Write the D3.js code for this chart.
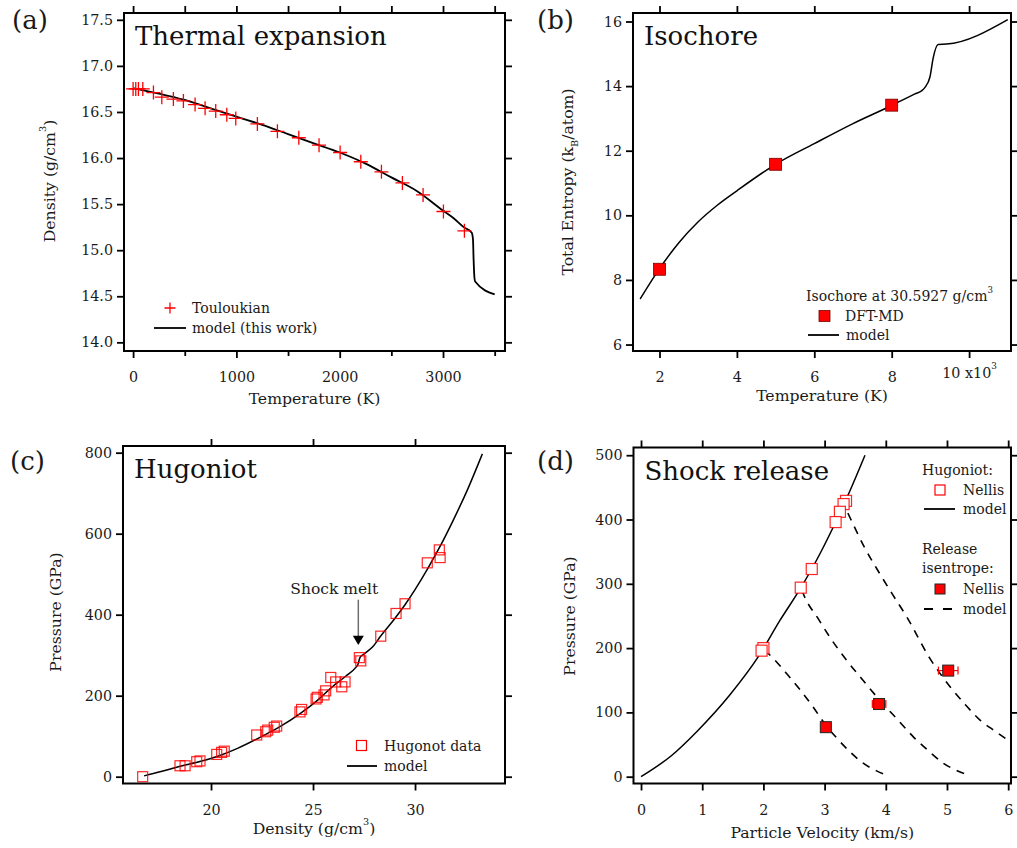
<!DOCTYPE html>
<html>
<head>
<meta charset="utf-8">
<script src="https://cdn.jsdelivr.net/npm/d3@7"></script>
<style>
  body { margin: 0; background: #fff; }
  svg { display: block; }
</style>
</head>
<body>
<script>
// ---- (a) thermal expansion: [T (K), density (g/cm3)]
const touloukian = [[0,16.75],[26,16.75],[52,16.75],[94,16.75],[197,16.71],[278,16.66],[390,16.64],
  [487,16.62],[600,16.58],[697,16.54],[800,16.51],[907,16.47],[994,16.43],[1203,16.37],[1397,16.29],
  [1604,16.22],[1800,16.14],[2004,16.06],[2204,15.96],[2404,15.85],[2607,15.73],[2807,15.60],
  [3004,15.42],[3207,15.21]];
const modelA = [[0,16.76],[250,16.70],[500,16.63],[750,16.54],[1000,16.45],[1250,16.36],[1500,16.26],
  [1750,16.16],[2000,16.06],[2250,15.94],[2500,15.79],[2750,15.64],[3000,15.43],[3100,15.35],
  [3200,15.25],[3278,15.19],[3290,15.12],[3296,14.90],[3303,14.72],[3311,14.66],[3500,14.52]];
const aXTicks = [0, 1000, 2000, 3000];
const aXMinor = [500, 1500, 2500, 3500];
const aYTicks = [14.0, 14.5, 15.0, 15.5, 16.0, 16.5, 17.0, 17.5];

// ---- (b) isochore: [T (10^3 K), entropy (kB/atom)]
const dftmd = [[2,8.33],[5,11.58],[8,13.41]];
const modelB = [[1.5,7.41],[2.0,8.35],[2.5,9.15],[3.0,9.80],[3.5,10.32],[4.0,10.76],[5.0,11.58],
  [6.0,12.22],[7.0,12.84],[8.0,13.40],[8.6,13.76],[8.78,13.86],[8.86,13.96],[8.99,14.29],
  [9.07,14.86],[9.2,15.29],[9.42,15.30],[11.0,16.06]];
const bXTicks = [2, 4, 6, 8, 10];
const bYTicks = [6, 8, 10, 12, 14, 16];

// ---- (c) Hugoniot: [density (g/cm3), pressure (GPa)]
const hugData = [[16.65,0],[18.48,27],[18.73,27],[19.30,37],[19.46,39],[20.28,55],[20.52,60],
  [20.65,63],[22.24,103],[22.68,111],[22.78,115],[23.10,122],[23.22,125],[24.36,160],[24.44,166],
  [25.15,192],[25.21,196],[25.54,202],[25.62,212],[25.87,245],[26.11,234],[26.41,222],[26.57,234],
  [27.27,294],[27.34,286],[28.32,347],[29.07,403],[29.51,427],[30.60,528],[31.19,560],[31.23,541]];
const modelC = [[16.72,2],[17.5,12],[18.5,26],[19.5,38],[20.3,50],[21.3,70],[22.4,97],[23.4,124],
  [24.4,157],[25.2,188],[25.9,220],[26.6,248],[27.1,270],[27.2,277],[27.3,294],[27.5,303],
  [27.95,322],[28.3,346],[29.0,390],[29.5,424],[30.0,462],[30.6,512],[31.2,566],[31.9,636],
  [32.6,712],[33.3,797]];
const meltRho = 27.22;
const cXTicks = [20, 25, 30];
const cYTicks = [0, 200, 400, 600, 800];

// ---- (d) shock release: [particle velocity (km/s), pressure (GPa)]
const nellisHug = [[3.35,429],[3.31,424],[3.25,412],[3.18,396],[2.79,323],[2.61,294],[2.00,200],[1.97,196]];
const nellisRel = [[3.02,77,0.05],[3.89,113,0.11],[5.02,165,0.16]]; // u, P, error in u
const modelD = [[0,0],[0.5,33],[0.91,70],[1.45,127],[1.92,187],[2.27,243],[2.6,292],[2.87,337],
  [3.14,388],[3.42,446],[3.66,500]];
const release1 = [[2.02,197],[2.16,184],[2.4,158],[2.6,135],[2.8,110],[3.02,80],[3.2,60],[3.4,40],
  [3.63,21],[3.85,9],[4.04,1.5]];
const release2 = [[2.63,290],[2.65,285],[2.9,245],[3.1,215],[3.36,181],[3.6,153],[3.9,119],[4.2,88],
  [4.45,62],[4.7,40],[4.94,21],[5.15,10],[5.35,2.5]];
const release3 = [[3.38,410],[3.42,402],[3.65,357],[3.9,316],[4.1,285],[4.34,249],[4.72,184],
  [5.05,140],[5.3,112],[5.54,88],[5.8,70],[6.05,53]];
const dXTicks = [0, 1, 2, 3, 4, 5, 6];
const dYTicks = [0, 100, 200, 300, 400, 500];

const FONT = 'DejaVu Serif';
const TITLE_SIZE = 15.7;
const svg = d3.select('body').append('svg')
  .attr('width', 1017).attr('height', 848)
  .attr('font-family', FONT);

// text made of plain / superscript / subscript parts
function rich(sel, parts, size) {
  let shift = 0;
  parts.forEach(([s, kind]) => {
    const want = kind === 'sup' ? -0.6 * size : kind === 'sub' ? 0.3 * size : 0;
    sel.append('tspan')
      .attr('dy', want - shift)
      .attr('font-size', kind ? size * 0.62 : size)
      .text(s);
    shift = want;
  });
  return sel;
}

function styleAxis(a) {
  a.attr('font-family', FONT).attr('font-size', 14.3);
  a.select('.domain').remove();
  a.selectAll('.tick line').attr('stroke', '#000').attr('stroke-width', 1.8);
  a.selectAll('.tick text').attr('fill', '#1a1a1a');
}

function makePanel(c) {
  const [l, r, t, b] = c.box;
  const x = d3.scaleLinear().domain(c.xDomain).range([l, r]);
  const y = d3.scaleLinear().domain(c.yDomain).range([b, t]);
  const g = svg.append('g');
  g.append('clipPath').attr('id', 'clip' + c.name)
    .append('rect').attr('x', l).attr('y', t).attr('width', r - l).attr('height', b - t);

  const none = () => '';
  const xAxis = g.append('g').attr('transform', `translate(0,${b})`)
    .call(d3.axisBottom(x).tickValues(c.xTicks).tickFormat(c.xFormat).tickSize(7).tickPadding(14).tickSizeOuter(0))
    .call(styleAxis);
  g.append('g').attr('transform', `translate(0,${t})`)
    .call(d3.axisTop(x).tickValues(c.xTicks).tickFormat(none).tickSize(7).tickSizeOuter(0))
    .call(styleAxis);
  if (c.xMinor) {
    g.append('g').attr('transform', `translate(0,${b})`)
      .call(d3.axisBottom(x).tickValues(c.xMinor).tickFormat(none).tickSize(5).tickSizeOuter(0))
      .call(styleAxis);
    g.append('g').attr('transform', `translate(0,${t})`)
      .call(d3.axisTop(x).tickValues(c.xMinor).tickFormat(none).tickSize(7).tickSizeOuter(0))
      .call(styleAxis);
  }
  g.append('g').attr('transform', `translate(${l},0)`)
    .call(d3.axisLeft(y).tickValues(c.yTicks).tickFormat(c.yFormat).tickSize(7).tickPadding(4).tickSizeOuter(0))
    .call(styleAxis);
  g.append('g').attr('transform', `translate(${r},0)`)
    .call(d3.axisRight(y).tickValues(c.yTicks).tickFormat(none).tickSize(7).tickSizeOuter(0))
    .call(styleAxis);

  const plot = g.append('g').attr('clip-path', `url(#clip${c.name})`);
  const over = g.append('g');
  g.append('rect').attr('x', l).attr('y', t).attr('width', r - l).attr('height', b - t)
    .attr('fill', 'none').attr('stroke', '#000').attr('stroke-width', 2);

  // panel letter and title
  g.append('text').attr('x', c.letter[0]).attr('y', c.letter[1])
    .attr('font-size', 26).attr('fill', '#1a1a1a').text(`(${c.name})`);
  g.append('text').attr('x', l + 11).attr('y', t + 32)
    .attr('font-size', 26).attr('fill', '#111').text(c.title);

  // axis titles
  rich(g.append('text').attr('x', (l + r) / 2).attr('y', c.xTitleY)
    .attr('text-anchor', 'middle').attr('fill', '#1a1a1a'), c.xTitle, TITLE_SIZE);
  rich(g.append('text').attr('transform', `translate(${c.yTitleX},${c.yTitleC}) rotate(-90)`)
    .attr('text-anchor', 'middle').attr('fill', '#1a1a1a'), c.yTitle, TITLE_SIZE);

  return { g, plot, over, x, y, xAxis };
}

const line = (x, y) => d3.line().x(d => x(d[0])).y(d => y(d[1])).curve(d3.curveMonotoneX);
const crossPath = s => `M${-s},0H${s}M0,${-s}V${s}`;

// ================= (a)
{
  const p = makePanel({
    name: 'a', box: [124, 505, 13, 351], xDomain: [-88, 3600], yDomain: [13.906, 17.574],
    xTicks: aXTicks, xMinor: aXMinor, yTicks: aYTicks, xFormat: d3.format('d'), yFormat: d3.format('.1f'),
    letter: [12, 29], title: 'Thermal expansion',
    xTitle: [['Temperature (K)']], xTitleY: 404,
    yTitle: [['Density (g/cm'], ['3', 'sup'], [')']], yTitleX: 55, yTitleC: 181
  });
  p.plot.append('path').datum(modelA).attr('d', line(p.x, p.y))
    .attr('fill', 'none').attr('stroke', '#000').attr('stroke-width', 1.8);
  p.plot.selectAll('.cross').data(touloukian).join('path')
    .attr('transform', d => `translate(${p.x(d[0])},${p.y(d[1])})`)
    .attr('d', crossPath(7)).attr('stroke', '#f00').attr('stroke-width', 1.3).attr('fill', 'none');
  // legend
  const lg = p.g.append('g').attr('font-size', 14).attr('fill', '#1a1a1a');
  lg.append('path').attr('transform', 'translate(170,308)').attr('d', crossPath(5.5))
    .attr('stroke', '#f00').attr('stroke-width', 1.3);
  lg.append('text').attr('x', 192).attr('y', 313).text('Touloukian');
  lg.append('line').attr('x1', 154).attr('x2', 186).attr('y1', 328).attr('y2', 328)
    .attr('stroke', '#000').attr('stroke-width', 1.8);
  lg.append('text').attr('x', 192).attr('y', 333).text('model (this work)');
}

// ================= (b)
{
  const p = makePanel({
    name: 'b', box: [633, 1011, 13, 351], xDomain: [1.315, 11.083], yDomain: [5.8, 16.263],
    xTicks: bXTicks, yTicks: bYTicks, xFormat: d3.format('d'), yFormat: d3.format('d'),
    letter: [537, 29], title: 'Isochore',
    xTitle: [['Temperature (K)']], xTitleY: 401,
    yTitle: [['Total Entropy (k'], ['B', 'sub'], ['/atom)']], yTitleX: 573, yTitleC: 182
  });
  // "10 x10^3" label in place of 10 on the bottom axis only
  p.xAxis.selectAll('.tick text').filter(d => d === 10)
    .text(null).attr('y', 27)
    .call(t => rich(t, [['10 x10'], ['3', 'sup']], 14.3));
  p.plot.append('path').datum(modelB).attr('d', line(p.x, p.y))
    .attr('fill', 'none').attr('stroke', '#000').attr('stroke-width', 1.5);
  p.plot.selectAll('.sq').data(dftmd).join('rect')
    .attr('x', d => p.x(d[0]) - 6).attr('y', d => p.y(d[1]) - 6).attr('width', 12).attr('height', 12)
    .attr('fill', '#f00').attr('stroke', '#7a0000').attr('stroke-width', 0.8);
  const lg = p.g.append('g').attr('font-size', 14).attr('fill', '#1a1a1a');
  rich(lg.append('text').attr('x', 806).attr('y', 301), [['Isochore at 30.5927 g/cm'], ['3', 'sup']], 14);
  lg.append('rect').attr('x', 819).attr('y', 310.5).attr('width', 11).attr('height', 11)
    .attr('fill', '#f00').attr('stroke', '#7a0000').attr('stroke-width', 0.8);
  lg.append('text').attr('x', 845).attr('y', 321).text('DFT-MD');
  lg.append('line').attr('x1', 808).attr('x2', 839).attr('y1', 335).attr('y2', 335)
    .attr('stroke', '#000').attr('stroke-width', 1.8);
  lg.append('text').attr('x', 846).attr('y', 340).text('model');
}

// ================= (c)
{
  const p = makePanel({
    name: 'c', box: [123, 505, 446, 783.5], xDomain: [15.686, 34.41], yDomain: [-16.8, 816.5],
    xTicks: cXTicks, yTicks: cYTicks, xFormat: d3.format('d'), yFormat: d3.format('d'),
    letter: [10, 470], title: 'Hugoniot',
    xTitle: [['Density (g/cm'], ['3', 'sup'], [')']], xTitleY: 834,
    yTitle: [['Pressure (GPa)']], yTitleX: 61, yTitleC: 612
  });
  p.plot.append('path').datum(modelC).attr('d', line(p.x, p.y))
    .attr('fill', 'none').attr('stroke', '#000').attr('stroke-width', 1.5);
  p.plot.selectAll('.sq').data(hugData).join('rect')
    .attr('x', d => p.x(d[0]) - 5).attr('y', d => p.y(d[1]) - 5).attr('width', 10).attr('height', 10)
    .attr('fill', 'none').attr('stroke', '#f00').attr('stroke-opacity', 0.85).attr('stroke-width', 1.2);
  // shock melt annotation
  const ax = p.x(meltRho);
  p.over.append('text').attr('x', ax - 68).attr('y', p.y(452)).attr('font-size', 15.5)
    .attr('fill', '#1a1a1a').text('Shock melt');
  p.over.append('line').attr('x1', ax).attr('x2', ax).attr('y1', p.y(437)).attr('y2', p.y(346))
    .attr('stroke', '#6e6e6e').attr('stroke-width', 1.5);
  p.over.append('path').attr('d', `M${ax - 5.5},${p.y(348)}L${ax + 5.5},${p.y(348)}L${ax},${p.y(325)}Z`)
    .attr('fill', '#000');
  const lg = p.g.append('g').attr('font-size', 14).attr('fill', '#1a1a1a');
  lg.append('rect').attr('x', 356.5).attr('y', 740.5).attr('width', 10).attr('height', 10)
    .attr('fill', 'none').attr('stroke', '#f00').attr('stroke-width', 1.2);
  lg.append('text').attr('x', 384).attr('y', 751).text('Hugonot data');
  lg.append('line').attr('x1', 347).attr('x2', 377).attr('y1', 766).attr('y2', 766)
    .attr('stroke', '#000').attr('stroke-width', 1.8);
  lg.append('text').attr('x', 384).attr('y', 771).text('model');
}

// ================= (d)
{
  const p = makePanel({
    name: 'd', box: [633.5, 1011, 447.5, 783.5], xDomain: [-0.123, 6.046], yDomain: [-10.6, 512],
    xTicks: dXTicks, yTicks: dYTicks, xFormat: d3.format('d'), yFormat: d3.format('d'),
    letter: [537, 470], title: 'Shock release',
    xTitle: [['Particle Velocity (km/s)']], xTitleY: 838,
    yTitle: [['Pressure (GPa)']], yTitleX: 575, yTitleC: 616
  });
  p.plot.append('path').datum(modelD).attr('d', line(p.x, p.y))
    .attr('fill', 'none').attr('stroke', '#000').attr('stroke-width', 1.5);
  [release1, release2, release3].forEach(r => {
    p.plot.append('path').datum(r).attr('d', line(p.x, p.y))
      .attr('fill', 'none').attr('stroke', '#000').attr('stroke-width', 1.6)
      .attr('stroke-dasharray', '8,7');
  });
  p.plot.selectAll('.hsq').data(nellisHug).join('rect')
    .attr('x', d => p.x(d[0]) - 5.5).attr('y', d => p.y(d[1]) - 5.5).attr('width', 11).attr('height', 11)
    .attr('fill', '#fff').attr('stroke', '#f00').attr('stroke-opacity', 0.85).attr('stroke-width', 1.2);
  const eb = p.plot.selectAll('.eb').data(nellisRel).join('g').attr('stroke', '#f00').attr('stroke-width', 1.2);
  eb.append('line').attr('x1', d => p.x(d[0] - d[2])).attr('x2', d => p.x(d[0] + d[2]))
    .attr('y1', d => p.y(d[1])).attr('y2', d => p.y(d[1]));
  eb.append('line').attr('x1', d => p.x(d[0] - d[2])).attr('x2', d => p.x(d[0] - d[2]))
    .attr('y1', d => p.y(d[1]) - 4).attr('y2', d => p.y(d[1]) + 4);
  eb.append('line').attr('x1', d => p.x(d[0] + d[2])).attr('x2', d => p.x(d[0] + d[2]))
    .attr('y1', d => p.y(d[1]) - 4).attr('y2', d => p.y(d[1]) + 4);
  p.plot.selectAll('.rsq').data(nellisRel).join('rect')
    .attr('x', d => p.x(d[0]) - 5.5).attr('y', d => p.y(d[1]) - 5.5).attr('width', 11).attr('height', 11)
    .attr('fill', '#f00').attr('stroke', '#222').attr('stroke-width', 1);
  const lg = p.g.append('g').attr('font-size', 14).attr('fill', '#1a1a1a');
  lg.append('text').attr('x', 922).attr('y', 475).text('Hugoniot:');
  lg.append('rect').attr('x', 935).attr('y', 485).attr('width', 10).attr('height', 10)
    .attr('fill', 'none').attr('stroke', '#f00').attr('stroke-width', 1.2);
  lg.append('text').attr('x', 963).attr('y', 495).text('Nellis');
  lg.append('line').attr('x1', 924).attr('x2', 955).attr('y1', 509).attr('y2', 509)
    .attr('stroke', '#000').attr('stroke-width', 1.8);
  lg.append('text').attr('x', 963).attr('y', 514).text('model');
  lg.append('text').attr('x', 922).attr('y', 554).text('Release');
  lg.append('text').attr('x', 922).attr('y', 573).text('isentrope:');
  lg.append('rect').attr('x', 935).attr('y', 584).attr('width', 10).attr('height', 10)
    .attr('fill', '#f00').attr('stroke', '#222').attr('stroke-width', 1);
  lg.append('text').attr('x', 963).attr('y', 594).text('Nellis');
  lg.append('line').attr('x1', 924).attr('x2', 955).attr('y1', 609).attr('y2', 609)
    .attr('stroke', '#000').attr('stroke-width', 1.8).attr('stroke-dasharray', '9,10');
  lg.append('text').attr('x', 963).attr('y', 614).text('model');
}
</script>
</body>
</html>
